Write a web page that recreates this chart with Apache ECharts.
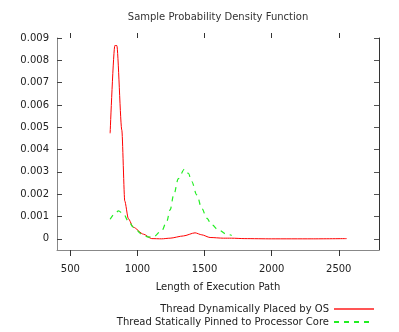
<!DOCTYPE html>
<html lang="en">
<head>
    <meta charset="UTF-8">
    <title>Sample Probability Density Function</title>
    <script src="https://cdn.jsdelivr.net/npm/echarts@6/dist/echarts.min.js"></script>
    <style>
        html, body { margin: 0; padding: 0; background: #fff; }
    </style>
</head>
<body>
<div id="main" style="width: 399px; height: 332px;"></div>
<script>
    // x = length of execution path, y = density
    var osX = [796, 831, 846, 883, 905, 932, 969, 1044, 1106, 1180, 1243, 1342, 1429, 1479, 1541, 1640, 1700, 1800, 2000, 2300, 2559];
    var osY = [0.00473, 0.00866, 0.00866, 0.00488, 0.0017, 0.0009, 0.00052, 0.00021, 0.00001, 0.0, 0.00003, 0.00013, 0.00027, 0.00018, 0.00006, 0.00003, 0.00003, 0.00001, 0.0, 0.0, 0.00001];
    var pinX = [796, 835, 858, 895, 932, 969, 1032, 1082, 1119, 1181, 1218, 1243, 1270, 1305, 1350, 1379, 1404, 1442, 1479, 1516, 1553, 1603, 1665, 1702];
    var pinY = [0.00088, 0.00115, 0.00125, 0.00112, 0.0008, 0.00052, 0.00021, 0.00008, 0.0001, 0.00037, 0.00078, 0.0013, 0.00197, 0.0027, 0.00312, 0.00294, 0.00257, 0.00197, 0.00137, 0.00093, 0.00063, 0.0004, 0.00021, 0.00015];
    var xTicks = [500, 1000, 1500, 2000, 2500];
    var yTicks = [0, 0.001, 0.002, 0.003, 0.004, 0.005, 0.006, 0.007, 0.008, 0.009];
    var names = ['Thread Dynamically Placed by OS', 'Thread Statically Pinned to Processor Core'];

    function pairs(xs, ys) {
        var out = [];
        for (var i = 0; i < xs.length; i++) {
            out.push([xs[i], ys[i]]);
        }
        return out;
    }

    var font = 'DejaVu Sans';
    var chart = echarts.init(document.getElementById('main'));
    var option = {
        animation: false,
        textStyle: { fontFamily: font },
        title: {
            text: 'Sample Probability Density Function',
            left: 218,
            top: 12,
            textAlign: 'center',
            padding: 0,
            textStyle: { fontSize: 10, fontWeight: 'normal', color: '#333', fontFamily: font }
        },
        legend: {
            orient: 'vertical',
            align: 'right',
            right: 24,
            top: 304,
            itemWidth: 40,
            itemHeight: 10,
            itemGap: 3,
            padding: 0,
            itemStyle: { opacity: 0 },
            textStyle: { fontSize: 10, color: '#222', fontFamily: font },
            data: [
                { name: names[0], lineStyle: { width: 2, color: '#ff5555' } },
                { name: names[1] }
            ]
        },
        grid: { left: 57, right: 20, top: 38, bottom: 82, outerBoundsMode: 'none' },
        xAxis: [
            {
                type: 'value',
                position: 'bottom',
                min: 400,
                max: 2800,
                name: 'Length of Execution Path',
                nameLocation: 'middle',
                nameGap: 32,
                nameTextStyle: { fontSize: 10, color: '#222', fontFamily: font },
                axisLine: { show: true, onZero: false, lineStyle: { color: '#888', width: 1 } },
                axisTick: { show: true, inside: false, length: 6, customValues: xTicks, lineStyle: { color: '#333' } },
                axisLabel: {
                    show: true, margin: 14, fontSize: 10, color: '#222', fontFamily: font, customValues: xTicks,
                    formatter: function (v) { return String(v); }
                },
                splitLine: { show: false }
            },
            {
                // top ticks only, the line itself is invisible
                type: 'value',
                position: 'top',
                min: 400,
                max: 2800,
                axisLine: { show: true, onZero: false, lineStyle: { color: 'rgba(0,0,0,0)' } },
                axisTick: { show: true, inside: false, length: 5, customValues: xTicks, lineStyle: { color: '#333', width: 1 } },
                axisLabel: { show: false },
                splitLine: { show: false }
            }
        ],
        yAxis: [
            {
                type: 'value',
                position: 'left',
                min: -0.0005,
                max: 0.009,
                axisLine: { show: true, onZero: false, lineStyle: { color: '#888', width: 1 } },
                axisTick: { show: true, inside: true, length: 5, customValues: yTicks, lineStyle: { color: '#444' } },
                axisLabel: {
                    show: true, margin: 8, fontSize: 10, color: '#222', fontFamily: font, customValues: yTicks,
                    formatter: function (v) { return Math.abs(v) < 1e-9 ? '0' : v.toFixed(3); }
                },
                splitLine: { show: false }
            },
            {
                type: 'value',
                position: 'right',
                min: -0.0005,
                max: 0.009,
                axisLine: { show: true, onZero: false, lineStyle: { color: '#333', width: 1 } },
                axisTick: { show: true, inside: true, length: 5, customValues: yTicks, lineStyle: { color: '#555' } },
                axisLabel: { show: false },
                splitLine: { show: false }
            }
        ],
        series: [
            {
                name: names[0],
                type: 'line',
                xAxisIndex: 0,
                yAxisIndex: 0,
                symbol: 'none',
                smooth: 0.25,
                smoothMonotone: 'x',
                lineStyle: { color: '#ff0000', width: 1 },
                itemStyle: { color: '#ff0000' },
                data: pairs(osX, osY)
            },
            {
                name: names[1],
                type: 'line',
                xAxisIndex: 0,
                yAxisIndex: 0,
                symbol: 'none',
                smooth: 0.35,
                smoothMonotone: 'x',
                lineStyle: { color: '#22ee22', width: 1.2, type: [5, 5] },
                itemStyle: { color: '#22ee22' },
                data: pairs(pinX, pinY)
            }
        ]
    };
    chart.setOption(option);
</script>
</body>
</html>
